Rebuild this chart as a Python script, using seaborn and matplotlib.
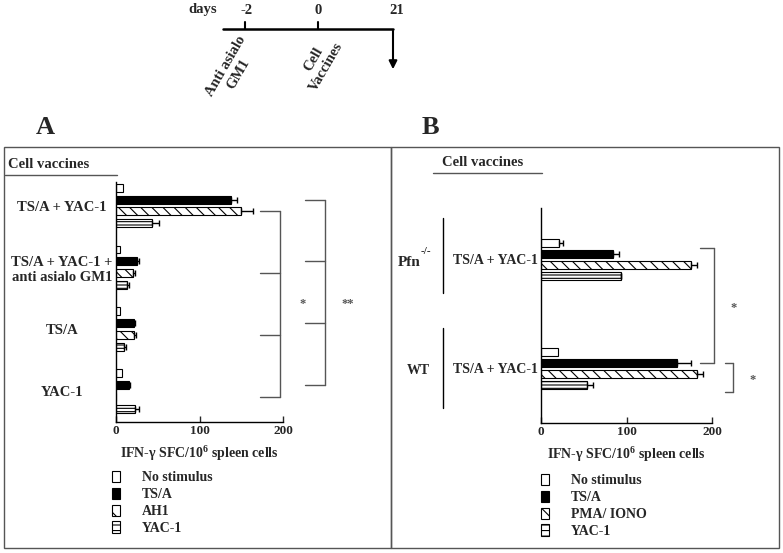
import numpy as np
import pandas as pd
import matplotlib
matplotlib.use("Agg")
import matplotlib.pyplot as plt
import seaborn as sns
from matplotlib.patches import Patch, Rectangle

# ---- data ----
left_groups = ["TS/A + YAC-1", "TS/A + YAC-1 +\nanti asialo GM1", "TS/A", "YAC-1"]
left_stims = ["No stimulus", "TS/A", "AH1", "YAC-1"]
left_no_stim = [8, 5, 5, 7]
left_tsa = [138, 25, 21, 16]
left_ah1 = [150, 20, 22, 0]
left_yac = [43, 13, 9, 23]
left_no_stim_err = [0, 0, 0, 0]
left_tsa_err = [7, 3, 2, 1]
left_ah1_err = [14, 3, 2, 0]
left_yac_err = [9, 3, 3, 4]

right_groups = ["Pfn-/-", "WT"]
right_tick_labels = ["TS/A + YAC-1", "TS/A + YAC-1"]
right_stims = ["No stimulus", "TS/A", "PMA/ IONO", "YAC-1"]
right_no_stim = [21, 20]
right_tsa = [84, 159]
right_pma = [175, 183]
right_yac = [93, 54]
right_no_stim_err = [5, 0]
right_tsa_err = [7, 16]
right_pma_err = [8, 6]
right_yac_err = [1, 7]

x_ticks = [0, 100, 200]
timeline_days = ["-2", "0", "21"]

# ---- style ----
sns.set_style("white")
plt.rcParams["font.family"] = ["Liberation Serif", "DejaVu Serif"]
plt.rcParams["font.weight"] = "bold"
plt.rcParams["mathtext.fontset"] = "custom"
plt.rcParams["mathtext.rm"] = "Liberation Serif"
plt.rcParams["mathtext.bf"] = "Liberation Serif:bold"
plt.rcParams["hatch.linewidth"] = 0.8

W, H = 783, 553
fig = plt.figure(figsize=(W / 100, H / 100), dpi=100)
fills = ["white", "black", "white", "white"]
hatches = ["", "", "\\\\\\", "-----"]
grey = "#555555"


def px_axes(l, t, r, b):
    return fig.add_axes([l / W, 1 - b / H, (r - l) / W, (b - t) / H])


# overlay for boxes, headers and the timeline (pixel coords)
over = px_axes(0, 0, W, H)
over.set_xlim(0, W)
over.set_ylim(H, 0)
over.axis("off")

over.add_patch(Rectangle((4, 147), 387, 401, fill=False, ec=grey, lw=1))
over.add_patch(Rectangle((391, 147), 388, 401, fill=False, ec=grey, lw=1))

# timeline sketch
over.text(203, 10, "days", ha="center", va="center", fontsize=10.5)
for lab, xp in zip(timeline_days, [247, 318, 397]):
    over.text(xp, 10, lab, ha="center", va="center", fontsize=10.5)
over.plot([223, 393], [29, 29], color="black", lw=1.8)
over.plot([245, 245], [22, 29], color="black", lw=1.5)
over.plot([318, 318], [22, 29], color="black", lw=1.5)
over.annotate("", xy=(393, 72), xytext=(393, 28),
              arrowprops=dict(arrowstyle="-|>", color="black", lw=1.5, mutation_scale=12))
over.text(232, 70, "Anti asialo\nGM1", rotation=60, ha="center", va="center",
          multialignment="center", fontsize=10.5, rotation_mode="anchor")
over.text(320, 63, "Cell\nVaccines", rotation=60, ha="center", va="center",
          multialignment="center", fontsize=10.5, rotation_mode="anchor")

over.text(45, 128, "A", ha="center", va="center", fontsize=19)
over.text(430, 128, "B", ha="center", va="center", fontsize=19)

over.text(8, 165, "Cell vaccines", ha="left", va="center", fontsize=10.5)
over.plot([5, 117], [175, 175], color=grey, lw=1)
over.text(442, 163, "Cell vaccines", ha="left", va="center", fontsize=10.5)
over.plot([433, 542], [173, 173], color=grey, lw=1)

# right panel genotype markers
over.text(398, 262, "Pfn", ha="left", va="center", fontsize=11)
over.text(421, 252, "-/-", ha="left", va="center", fontsize=8)
over.plot([443, 443], [218, 293], color="black", lw=1)
over.text(407, 370, "WT", ha="left", va="center", fontsize=10)
over.plot([443, 443], [328, 408], color="black", lw=1)


def draw_panel(ax, groups, stims, series, errs, width, gap):
    df = pd.DataFrame({
        "group": np.repeat(groups, len(stims)),
        "stim": stims * len(groups),
        "value": np.array(series).T.ravel(),
    })
    sns.barplot(data=df, x="value", y="group", hue="stim", order=groups,
                hue_order=stims, palette=dict(zip(stims, fills)), width=width,
                gap=gap, errorbar=None, edgecolor="black", linewidth=0.8,
                orient="h", legend=False, ax=ax)
    for cont, h, err in zip(ax.containers, hatches, errs):
        for p, e in zip(cont, err):
            p.set_hatch(h)
            if e > 0:
                yc = p.get_y() + p.get_height() / 2
                ax.errorbar(p.get_width(), yc, xerr=[[0], [e]], fmt="none",
                            ecolor="black", elinewidth=1, capsize=2, capthick=1)
    ax.set_xlim(0, 200)
    ax.set_xticks(x_ticks)
    ax.set_xticklabels([str(t) for t in x_ticks], fontsize=9.5, fontweight="bold")
    ax.tick_params(axis="x", direction="in", length=4, width=1, pad=2, bottom=True)
    ax.set_ylabel("")
    ax.set_xlabel(r"IFN-γ SFC/10$^{\mathbf{6}}$ spleen cells", fontsize=10,
                  fontweight="bold", labelpad=5)
    sns.despine(ax=ax)
    for s in ["left", "bottom"]:
        ax.spines[s].set_color("black")
        ax.spines[s].set_linewidth(1)
    ax.patch.set_alpha(0)


def centers(cont):
    return [p.get_y() + p.get_height() / 2 for p in cont]


def bracket(ax, ys, x0, x1):
    ax.plot([x1, x1], [ys[0], ys[-1]], color=grey, lw=1, clip_on=False)
    for y in ys:
        ax.plot([x0, x1], [y, y], color=grey, lw=1, clip_on=False)


# ---- panel A ----
axA = px_axes(116, 182, 283, 422)
draw_panel(axA, left_groups, left_stims,
           [left_no_stim, left_tsa, left_ah1, left_yac],
           [left_no_stim_err, left_tsa_err, left_ah1_err, left_yac_err],
           width=0.77, gap=0.33)
axA.set_ylim(3.5, -0.38)
axA.set_yticks(range(len(left_groups)))
axA.set_yticklabels(left_groups, ha="center", multialignment="center",
                    fontsize=10.5, fontweight="bold")
axA.tick_params(axis="y", length=0, pad=39)

ys_in = centers(axA.containers[2])
ys_out = centers(axA.containers[1])
bracket(axA, ys_in, 172, 196)
bracket(axA, ys_out, 226, 250)
mid = (ys_in[0] + ys_in[-1]) / 2
axA.text(223, mid, "*", ha="center", va="center", fontsize=9, color=grey, clip_on=False)
axA.text(277, mid, "**", ha="center", va="center", fontsize=9, color=grey, clip_on=False)

# ---- panel B ----
axB = px_axes(541, 208, 712, 423)
draw_panel(axB, right_groups, right_stims,
           [right_no_stim, right_tsa, right_pma, right_yac],
           [right_no_stim_err, right_tsa_err, right_pma_err, right_yac_err],
           width=0.4, gap=0.27)
axB.set_ylim(1.5, -0.47)
axB.set_yticks(range(len(right_groups)))
axB.set_yticklabels(right_tick_labels, fontsize=10, fontweight="bold")
axB.tick_params(axis="y", length=0, pad=2)

yb = centers(axB.containers[1])
yy = centers(axB.containers[3])
bracket(axB, [yb[0] - 0.05, yb[1]], 186, 202)
bracket(axB, [yb[1], yy[1] + 0.07], 215, 225)
axB.text(225, (yb[0] + yb[1]) / 2, "*", ha="center", va="center", fontsize=9,
         color=grey, clip_on=False)
axB.text(248, (yb[1] + yy[1]) / 2 + 0.06, "*", ha="center", va="center", fontsize=9,
         color=grey, clip_on=False)

# ---- legends ----
def legend_handles():
    return [Patch(facecolor=f, edgecolor="black", hatch=h, lw=0.8)
            for f, h in zip(fills, ["", "", "\\\\", "---"])]


fig.legend(legend_handles(), left_stims, loc="upper left",
           bbox_to_anchor=(112 / W, 1 - 471 / H), frameon=False, fontsize=10,
           handlelength=0.55, handleheight=0.85, handletextpad=1.6,
           labelspacing=0.25, borderpad=0, borderaxespad=0)
fig.legend(legend_handles(), right_stims, loc="upper left",
           bbox_to_anchor=(541 / W, 1 - 474 / H), frameon=False, fontsize=10,
           handlelength=0.55, handleheight=0.85, handletextpad=1.6,
           labelspacing=0.25, borderpad=0, borderaxespad=0)

fig.savefig("out.png", dpi=100)
